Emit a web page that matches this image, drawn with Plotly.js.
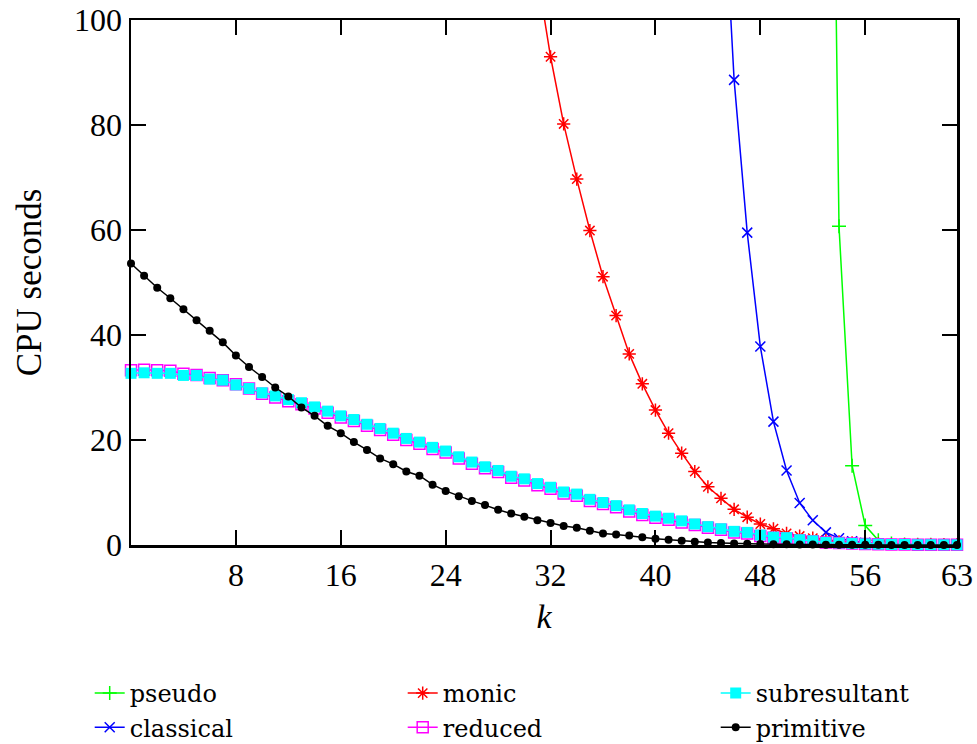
<!DOCTYPE html>
<html>
<head>
<meta charset="utf-8">
<script src="https://cdn.plot.ly/plotly-3.0.1.min.js"></script>
<style>html,body{margin:0;padding:0;background:#fff;}#chart{width:977px;height:744px;}</style>
</head>
<body>
<div id="chart"></div>
<script>
// ---- data ----
const pseudoK = [53, 54, 55, 56, 57, 58, 59, 60, 61, 62, 63];
const pseudo  = [250, 60.7, 15.1, 3.7, 0.9, 0.3, 0.1, 0.05, 0.03, 0.02, 0.01];

const classicalK = [45, 46, 47, 48, 49, 50, 51, 52, 53, 54, 55, 56, 57, 58, 59, 60, 61, 62, 63];
const classical  = [135, 88.6, 59.5, 37.8, 23.5, 14.2, 8.0, 4.7, 2.4, 1.3, 0.7, 0.4, 0.2, 0.1, 0.06, 0.04, 0.03, 0.02, 0.01];

const monicK = [30, 31, 32, 33, 34, 35, 36, 37, 38, 39, 40, 41, 42, 43, 44, 45, 46, 47, 48, 49, 50, 51, 52, 53, 54, 55, 56, 57, 58, 59, 60, 61, 62, 63];
const monic  = [126, 108.5, 93.0, 80.2, 69.7, 59.9, 51.1, 43.7, 36.4, 30.7, 25.7, 21.3, 17.5, 14.0, 11.1, 8.9, 6.8, 5.3, 4.0, 3.1, 2.2, 1.7, 1.3, 0.9, 0.6, 0.4, 0.3, 0.2, 0.1, 0.1, 0.05, 0.03, 0.02, 0.01];

const allK = [0,1,2,3,4,5,6,7,8,9,10,11,12,13,14,15,16,17,18,19,20,21,22,23,24,25,26,27,28,29,30,31,32,33,34,35,36,37,38,39,40,41,42,43,44,45,46,47,48,49,50,51,52,53,54,55,56,57,58,59,60,61,62,63];

const reduced = [33.3, 33.4, 33.3, 33.2, 32.6, 32.4, 31.8, 31.4, 30.6, 29.8, 28.8, 28.1, 27.4, 26.8, 26.0, 25.2, 24.3, 23.6, 22.7, 21.9, 21.0, 20.0, 19.3, 18.3, 17.6, 16.5, 15.5, 14.6, 13.9, 12.8, 12.3, 11.4, 10.7, 9.8, 9.4, 8.4, 7.8, 7.2, 6.4, 5.7, 5.2, 4.8, 4.3, 3.8, 3.3, 2.9, 2.4, 2.2, 1.7, 1.4, 1.3, 0.9, 0.7, 0.5, 0.4, 0.3, 0.2, 0.15, 0.1, 0.1, 0.05, 0.05, 0.03, 0.03];

const subresultant = [32.7, 32.8, 32.7, 32.7, 32.3, 32.3, 31.6, 31.4, 30.5, 29.8, 29.0, 28.4, 27.7, 27.1, 26.3, 25.5, 24.6, 23.9, 23.0, 22.2, 21.3, 20.3, 19.6, 18.6, 17.9, 16.8, 15.8, 14.9, 14.2, 13.1, 12.6, 11.7, 11.0, 10.1, 9.7, 8.7, 8.1, 7.5, 6.7, 6.0, 5.5, 5.1, 4.6, 4.0, 3.5, 3.1, 2.6, 2.4, 1.9, 1.5, 1.4, 1.0, 0.8, 0.5, 0.4, 0.3, 0.2, 0.15, 0.1, 0.1, 0.05, 0.05, 0.03, 0.03];

const primitive = [53.6, 51.3, 49.0, 47.0, 44.9, 42.8, 40.8, 38.6, 36.1, 33.9, 32.0, 30.0, 28.3, 26.2, 24.6, 22.7, 21.3, 19.6, 18.1, 16.5, 15.4, 14.0, 13.2, 11.5, 10.3, 9.3, 8.4, 7.6, 6.7, 6.0, 5.4, 4.7, 4.2, 3.6, 3.3, 2.7, 2.2, 2.0, 1.8, 1.5, 1.2, 1.0, 0.8, 0.6, 0.5, 0.4, 0.3, 0.25, 0.2, 0.15, 0.12, 0.1, 0.08, 0.06, 0.05, 0.04, 0.03, 0.03, 0.02, 0.02, 0.01, 0.01, 0.01, 0.01];

const xTickVals = [8, 16, 24, 32, 40, 48, 56, 63];
const xTickText = ['8', '16', '24', '32', '40', '48', '56', '63'];
const yTickVals = [0, 20, 40, 60, 80, 100];

// ---- styling ----
const FONT = '"Liberation Serif", "DejaVu Serif", serif';
const LEGFONT = '"DejaVu Serif", "Liberation Serif", serif';
function tr(name, x, y, color, symbol, size, rank, clip, lw) {
  return {
    type: 'scatter', mode: 'lines+markers', name: name, x: x, y: y,
    line: {color: color, width: 1.5},
    marker: {symbol: symbol, size: size, color: color, line: {color: color, width: lw}},
    cliponaxis: clip, legendrank: rank
  };
}
const traces = [
  tr('pseudo', pseudoK, pseudo, '#00ff00', 'cross-thin-open', 10, 1, true, 1.5),
  tr('classical', classicalK, classical, '#0000ff', 'x-thin-open', 10, 4, true, 1.5),
  tr('monic', monicK, monic, '#ff0000', 'asterisk-open', 11, 2, true, 1.5),
  tr('reduced', allK, reduced, '#ff00ff', 'square-open', 11, 5, false, 1.5),
  tr('subresultant', allK, subresultant, '#00ffff', 'square', 11, 3, false, 0),
  tr('primitive', allK, primitive, '#000000', 'circle', 8, 6, false, 0)
];

const layout = {
  width: 977, height: 744,
  margin: {l: 131, r: 20, t: 20, b: 199, autoexpand: false},
  paper_bgcolor: '#fff', plot_bgcolor: '#fff',
  font: {family: FONT, size: 32, color: '#000'},
  showlegend: true,
  legend: {
    orientation: 'h', x: -0.05, xanchor: 'left', y: -0.24, yanchor: 'top',
    entrywidth: 268, font: {family: LEGFONT, size: 24, color: '#000'},
    itemwidth: 30, bgcolor: 'rgba(0,0,0,0)', traceorder: 'normal'
  },
  xaxis: {
    range: [0, 63], tickmode: 'array', tickvals: xTickVals, ticktext: xTickText,
    ticks: 'inside', ticklen: 15, tickwidth: 2, tickcolor: '#000',
    showline: true, linewidth: 2.5, linecolor: '#000', mirror: 'ticks',
    showgrid: false, zeroline: false, automargin: false,
    tickfont: {family: FONT, size: 32},
    title: {text: '<i>k</i>', font: {family: FONT, size: 34}, standoff: 13}
  },
  yaxis: {
    range: [0, 100], tickmode: 'array', tickvals: yTickVals,
    ticks: 'inside', ticklen: 15, tickwidth: 2, tickcolor: '#000',
    showline: true, linewidth: 2.5, linecolor: '#000', mirror: 'ticks',
    showgrid: false, zeroline: false, automargin: false,
    tickfont: {family: FONT, size: 32},
    title: {text: 'CPU seconds', font: {family: FONT, size: 35}, standoff: 22}
  }
};

Plotly.newPlot('chart', traces, layout, {displayModeBar: false, staticPlot: true});
</script>
</body>
</html>
